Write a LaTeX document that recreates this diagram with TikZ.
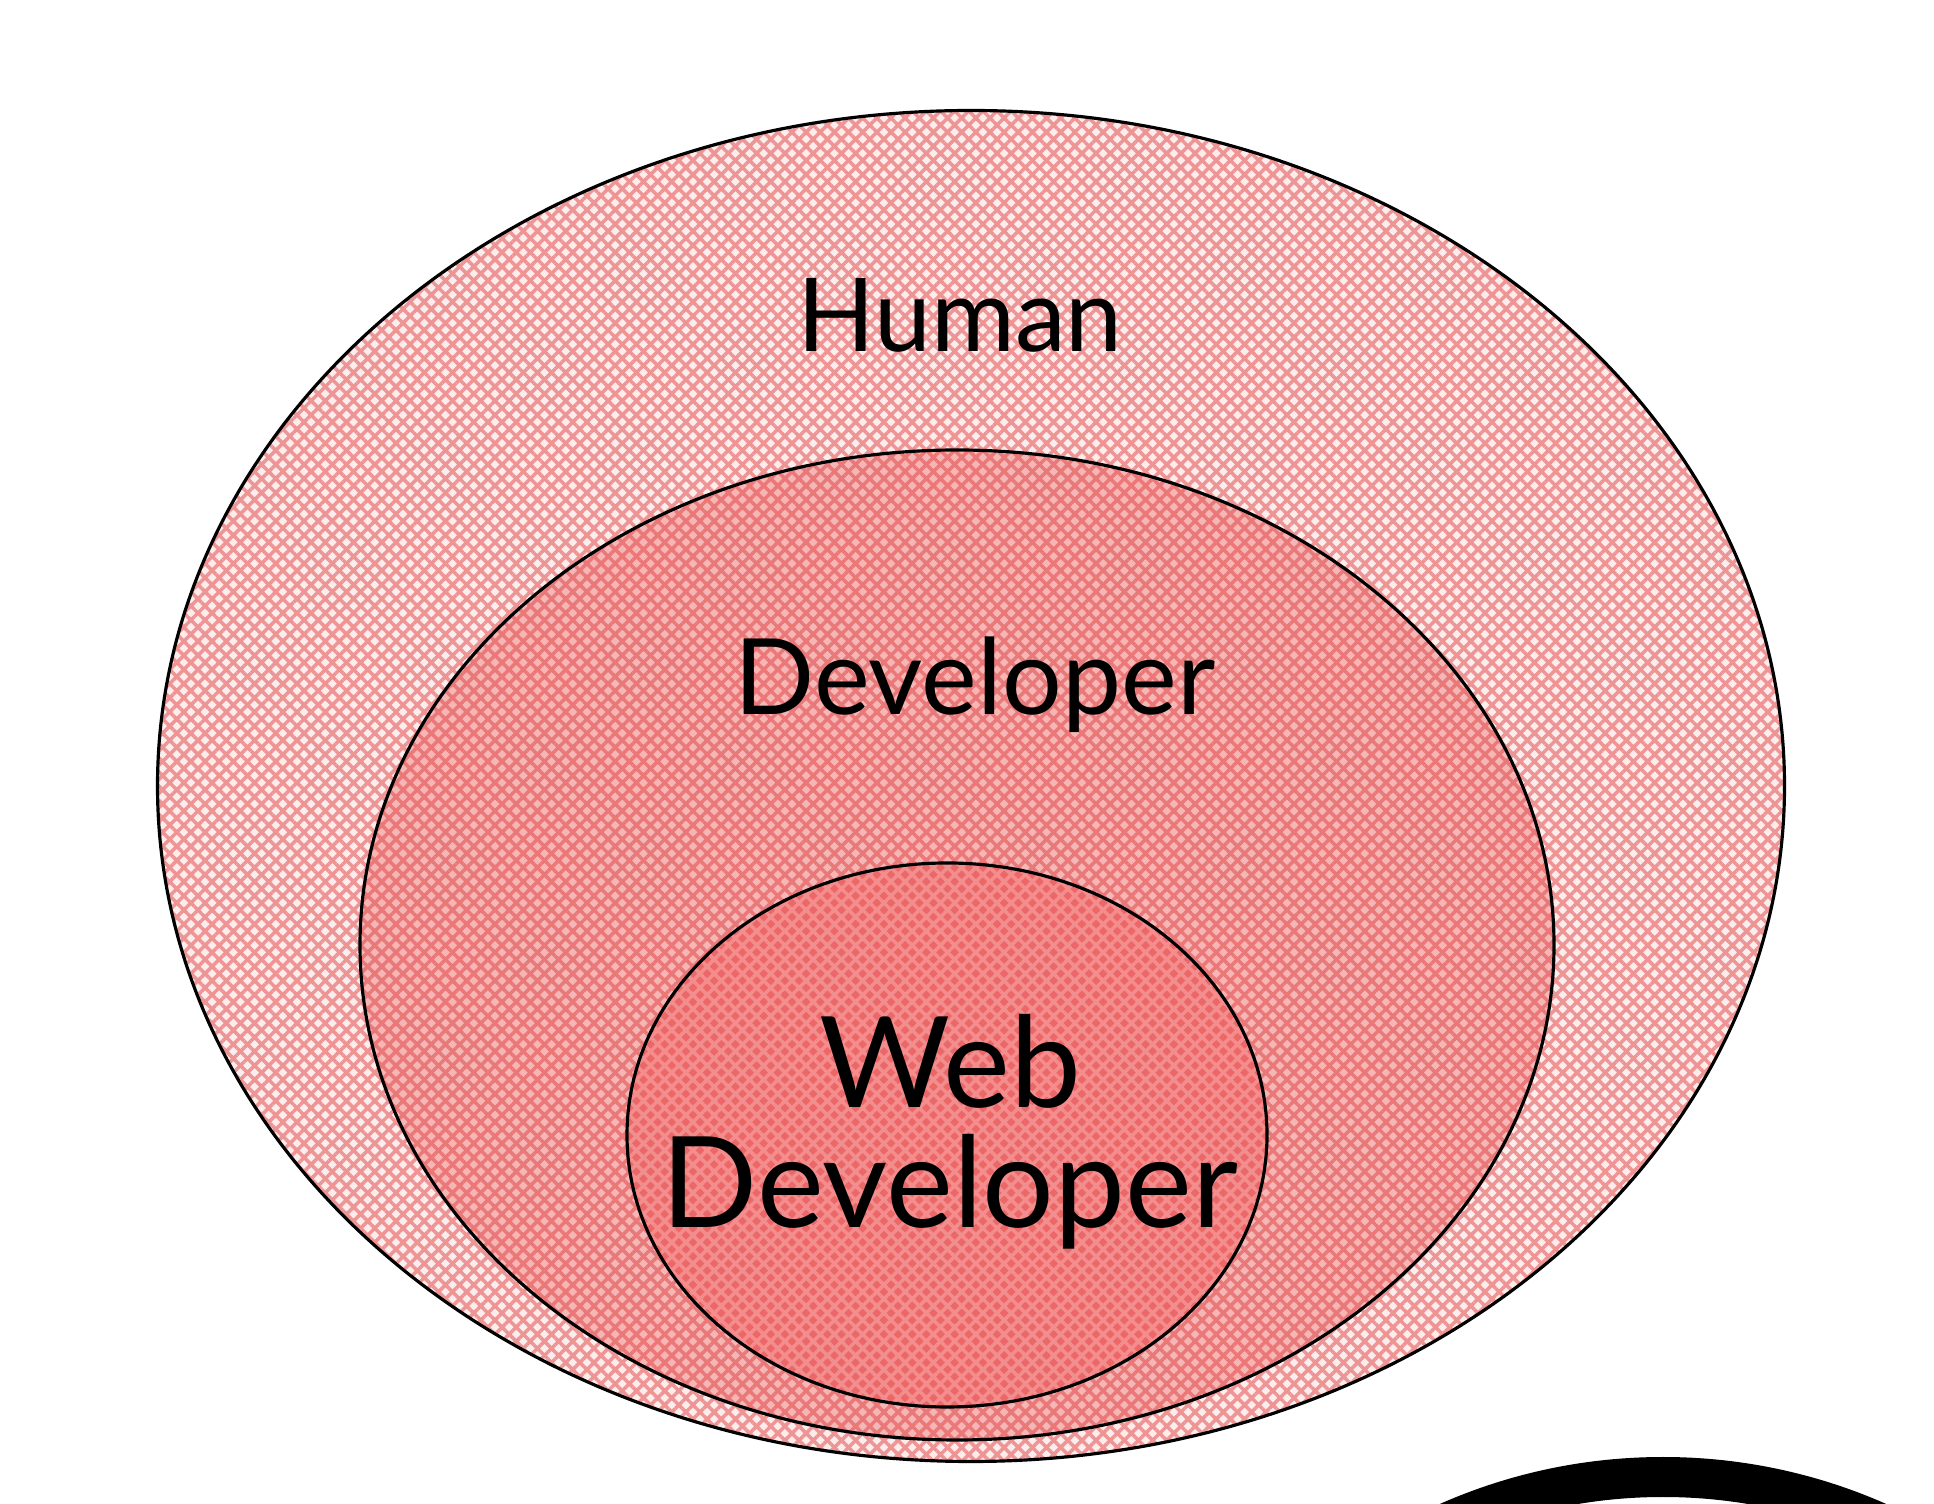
\documentclass[tikz,border=0pt]{standalone}
\usepackage{fontspec}
\setmainfont{Lato}
\usetikzlibrary{shapes.geometric,patterns.meta}
\definecolor{humanbase}{RGB}{253,236,236}
\definecolor{humanline}{RGB}{238,148,148}
\definecolor{devbase}{RGB}{246,182,182}
\definecolor{devline}{RGB}{234,120,120}
\definecolor{webbase}{RGB}{236,104,104}
\definecolor{webline}{RGB}{244,142,142}
\begin{document}
\begin{tikzpicture}[every node/.style={draw, ellipse, line width=0.9pt, inner sep=0pt},
  hatchfill/.style 2 args={preaction={fill=#1},
    pattern={Hatch[angle=45,distance=0.1cm,line width=0.035cm]}, pattern color=#2},
  tag/.style={draw=none, rectangle, inner sep=2pt, font=\fontsize{#1}{#1}\selectfont},
  tag/.default=30]
  \useasboundingbox (0,0) rectangle (19.34,15.04);
  \clip (0,0) rectangle (19.34,15.04);
  % nested sets
  \node[hatchfill={humanbase}{humanline}, minimum width=16.27cm, minimum height=13.51cm] (human) at (9.71,7.18) {};
  \node[hatchfill={devbase}{devline}, minimum width=11.94cm, minimum height=9.90cm] (dev) at (9.57,5.59) {};
  \node[hatchfill={webbase}{webline}, minimum width=6.40cm, minimum height=5.44cm] (web) at (9.47,3.69) {};
  % labels
  \node[tag=29, anchor=base] (humanlabel) at (9.60,11.52) {Human};
  \node[tag=30, anchor=base] (devlabel) at (9.75,7.89) {Developer};
  \node[tag=36, align=center] (weblabel) at (9.50,3.72) {Web\\[-2pt]Developer};
  % next shape, cut off by the page
  \node[circle, minimum size=10.64cm, line width=0.4cm] (nextset) at (16.63,-5.05) {};
\end{tikzpicture}
\end{document}
